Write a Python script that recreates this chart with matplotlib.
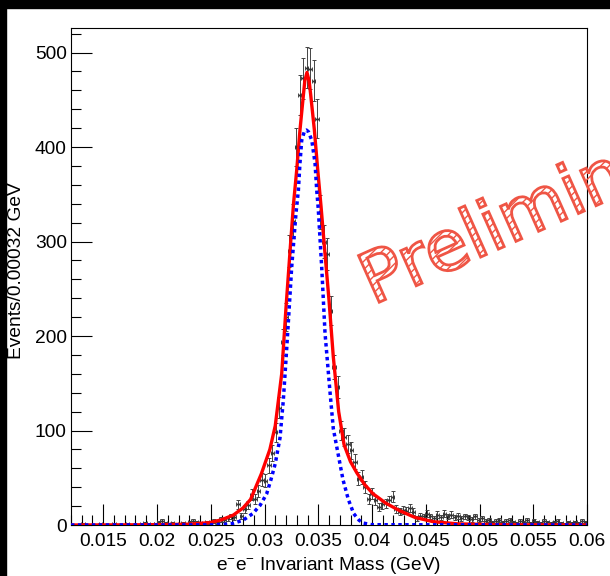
import numpy as np
import matplotlib
matplotlib.use("Agg")
import matplotlib.pyplot as plt
from matplotlib.ticker import MultipleLocator, FuncFormatter
from matplotlib.textpath import TextPath
from matplotlib.patches import PathPatch, Rectangle
from matplotlib.font_manager import FontProperties
import matplotlib.transforms as mtransforms

# ---------------- data ----------------
x_lo, x_hi, n_bins = 0.012, 0.060, 150
counts = [
    0, 0, 0, 1, 0, 0, 0, 0, 1, 0,
    0, 0, 1, 0, 0, 0, 1, 0, 0, 0,
    1, 2, 0, 1, 1, 3, 4, 2, 1, 2,
    1, 0, 2, 1, 3, 4, 3, 1, 2, 3,
    2, 4, 3, 6, 5, 7, 9, 8, 22, 10,
    17, 21, 32, 28, 36, 48, 47, 63, 76, 98,
    124, 194, 220, 290, 322, 400, 455, 473, 484, 483,
    470, 430, 331, 300, 287, 227, 167, 146, 100, 93,
    86, 79, 67, 49, 51, 40, 28, 33, 26, 19,
    22, 23, 26, 30, 17, 14, 16, 15, 18, 14,
    7, 10, 9, 12, 9, 7, 11, 8, 12, 9,
    11, 8, 10, 7, 9, 8, 6, 9, 5, 7,
    4, 5, 3, 4, 5, 3, 4, 5, 3, 2,
    4, 3, 5, 2, 4, 3, 2, 4, 3, 2,
    3, 4, 2, 1, 3, 2, 3, 2, 4, 3,
]

# total fit (red solid)
red_x = [0.012, 0.018, 0.021, 0.023, 0.0249, 0.0260, 0.0271, 0.0280, 0.0287,
         0.0297, 0.0305, 0.0310, 0.0316, 0.0320, 0.03244, 0.0327, 0.0330,
         0.0333, 0.0336, 0.03375, 0.03395, 0.03415, 0.0343, 0.03464, 0.03495,
         0.03526, 0.0356, 0.0360, 0.0364, 0.0369, 0.0374, 0.0380, 0.0386,
         0.0393, 0.0401, 0.0413, 0.0426, 0.0440, 0.0457, 0.0480, 0.0520, 0.060]
red_y = [0.0, 0.2, 0.5, 0.9, 2.5, 5.5, 10.5, 18, 27,
         54, 80, 105, 160, 230, 300, 340, 376,
         418, 453, 470, 479, 470, 455, 418, 376,
         337, 291, 238, 178, 120, 85, 67, 55,
         43, 33, 23, 15, 8, 3.5, 1.2, 0.3, 0.0]

# signal component (blue dotted)
blue_x = [0.012, 0.025, 0.026, 0.027, 0.028, 0.0289, 0.0296, 0.0302, 0.0306,
          0.0310, 0.03144, 0.03175, 0.0320, 0.03222, 0.03253, 0.03293, 0.03315,
          0.0333, 0.03346, 0.03372, 0.0339, 0.0341, 0.0344, 0.0347, 0.03486,
          0.0350, 0.03532, 0.03563, 0.0361, 0.0364, 0.0369, 0.0373, 0.0378,
          0.0383, 0.0388, 0.0392, 0.040, 0.060]
blue_y = [0, 0.1, 0.4, 1.5, 5, 12, 21, 33, 48,
          65, 92, 132, 175, 215, 273, 330, 354,
          383, 407, 417, 418, 416, 407, 383, 354,
          335, 273, 203, 140, 102, 72, 48, 27,
          12, 5, 2, 0.3, 0]

x_title = "e$^{\\mathregular{-}}$e$^{\\mathregular{-}}$ Invariant Mass (GeV)"
y_title = "Events/0.00032 GeV"
watermark = "Preliminary"

# ---------------- figure ----------------
W, H = 610, 576
fig = plt.figure(figsize=(W / 100, H / 100), dpi=100)
fig.patch.set_facecolor("white")

font = ["Liberation Sans", "DejaVu Sans"]
plt.rcParams["font.family"] = font
plt.rcParams["mathtext.fontset"] = "custom"
plt.rcParams["mathtext.rm"] = "Liberation Sans"
plt.rcParams["mathtext.it"] = "Liberation Sans"

ax = fig.add_axes([71 / W, 51 / H, 516 / W, 497 / H])

edges = np.linspace(x_lo, x_hi, n_bins + 1)
centers = 0.5 * (edges[:-1] + edges[1:])
half = 0.5 * (edges[1] - edges[0])
cnt = np.array(counts, dtype=float)
err = np.sqrt(cnt)
nz = cnt > 0

ax.errorbar(centers[nz], cnt[nz], yerr=err[nz], xerr=half, fmt="o",
            ms=1.0, color="#333333", ecolor="#444444", elinewidth=0.7,
            capsize=1.5, capthick=0.7, zorder=2)
ax.plot(centers[~nz], cnt[~nz], "o", ms=1.0, color="#333333", zorder=2)

ax.plot(red_x, red_y, color="#ff0000", lw=2.4, zorder=3, solid_joinstyle="round")
ax.plot(blue_x, blue_y, color="#0000ff", lw=2.5, linestyle=(0, (1, 1)),
        dash_capstyle="butt", zorder=4)

ax.set_xlim(x_lo, x_hi)
ax.set_ylim(0, 526)

ax.xaxis.set_major_locator(MultipleLocator(0.005))
ax.xaxis.set_minor_locator(MultipleLocator(0.001))
ax.yaxis.set_major_locator(MultipleLocator(100))
ax.yaxis.set_minor_locator(MultipleLocator(20))
ax.xaxis.set_major_formatter(FuncFormatter(lambda v, p: "%g" % round(v, 4)))
ax.yaxis.set_major_formatter(FuncFormatter(lambda v, p: "%d" % round(v)))

ax.tick_params(axis="both", which="major", direction="in", length=15,
               width=0.8, labelsize=13.8, top=False, right=False)
ax.tick_params(axis="both", which="minor", direction="in", length=7.5,
               width=0.8, top=False, right=False)
ax.tick_params(axis="x", which="major", pad=6)
ax.tick_params(axis="y", which="major", pad=3)
for s in ax.spines.values():
    s.set_linewidth(0.8)

fig.text(329 / W, 1 - 565 / H, x_title, ha="center", va="center",
         fontsize=13.8)
fig.text(17 / W, 1 - 271 / H, y_title, ha="center", va="center",
         rotation=90, fontsize=13.8)

# watermark
plt.rcParams["hatch.color"] = "#ef5545"
plt.rcParams["hatch.linewidth"] = 1.0
tp = TextPath((0, 0), watermark, size=70,
              prop=FontProperties(family="DejaVu Sans"))
tr = mtransforms.Affine2D().rotate_deg(24).translate(373, H - 305)
patch = PathPatch(tp, transform=tr, facecolor="none", edgecolor="#ef5545",
                  hatch="////", lw=2.0, zorder=10)
fig.add_artist(patch)

# black canvas border bands
fig.add_artist(Rectangle((0, 1 - 8 / H), 1, 8 / H, transform=fig.transFigure,
                         color="black", zorder=20))
fig.add_artist(Rectangle((0, 0), 6 / W, 1, transform=fig.transFigure,
                         color="black", zorder=20))

fig.savefig("out.png", dpi=100)
